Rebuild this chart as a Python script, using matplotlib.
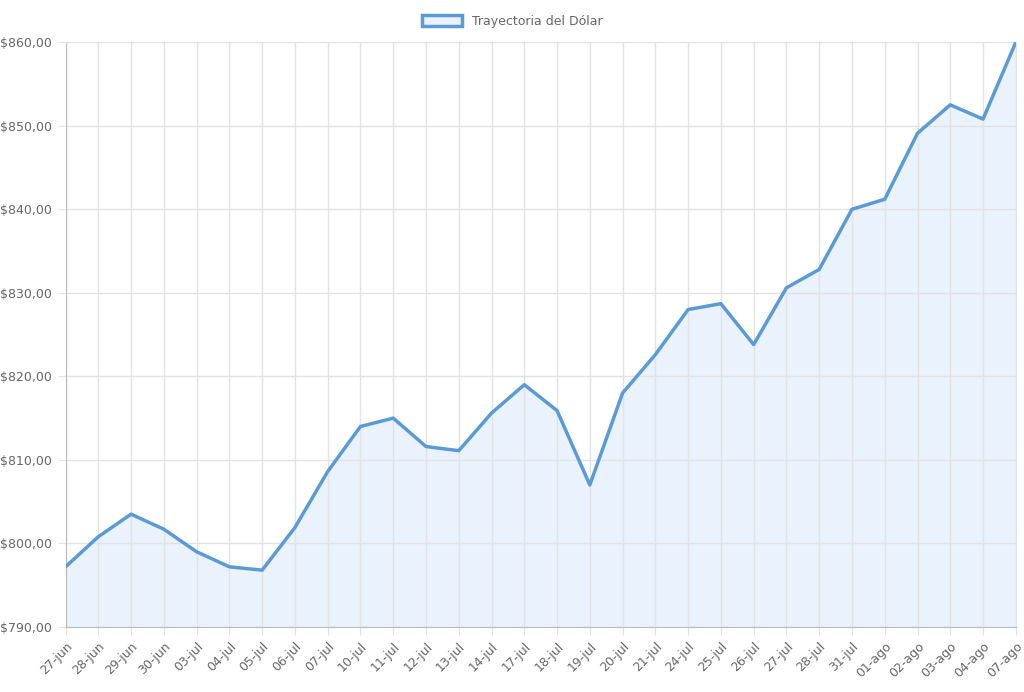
import numpy as np
import matplotlib.pyplot as plt
from matplotlib.patches import Patch

fechas = ["27-jun", "28-jun", "29-jun", "30-jun", "03-jul", "04-jul", "05-jul", "06-jul",
          "07-jul", "10-jul", "11-jul", "12-jul", "13-jul", "14-jul", "17-jul", "18-jul",
          "19-jul", "20-jul", "21-jul", "24-jul", "25-jul", "26-jul", "27-jul", "28-jul",
          "31-jul", "01-ago", "02-ago", "03-ago", "04-ago", "07-ago"]
dolar = [797.2, 800.8, 803.5, 801.7, 799.0, 797.2, 796.8, 801.9, 808.6, 814.0,
         815.0, 811.6, 811.1, 815.6, 819.0, 815.9, 807.0, 818.0, 822.6, 828.0,
         828.7, 823.8, 830.6, 832.8, 840.0, 841.2, 849.1, 852.5, 850.8, 860.0]
yticks = [790, 800, 810, 820, 830, 840, 850, 860]

color = "#5b9bd5"
fig = plt.figure(figsize=(10.24, 6.92), dpi=100)
ax = fig.add_axes([0.064, 0.094, 0.928, 0.845])
x = np.arange(len(fechas))
ax.fill_between(x, dolar, 790, color="#eaf3fd", zorder=1)
ax.plot(x, dolar, color=color, lw=2.5, zorder=3)
ax.set_xlim(0, len(fechas) - 1)
ax.set_ylim(790, 860)
ax.set_xticks(x)
ax.set_xticklabels(fechas, rotation=45, ha="right", rotation_mode="anchor", fontsize=9, color="#666")
ax.set_yticks(yticks)
ax.set_yticklabels(["$%d,00" % v for v in yticks], fontsize=9, color="#666")
ax.grid(True, color="#e3e3e3", lw=1, zorder=0)
for s in ax.spines.values():
    s.set_color("#e3e3e3")
ax.spines["left"].set_color("#bbb")
ax.spines["bottom"].set_color("#bbb")
ax.tick_params(length=6, color="#e3e3e3")
leg = fig.legend(handles=[Patch(facecolor="#eaf3fd", edgecolor=color, lw=2.5, label="Trayectoria del Dólar")],
                 loc="upper center", bbox_to_anchor=(0.5, 0.995), frameon=False, fontsize=9,
                 handlelength=3.2, handleheight=1.0)
for t in leg.get_texts():
    t.set_color("#666")
fig.savefig("out.png")
